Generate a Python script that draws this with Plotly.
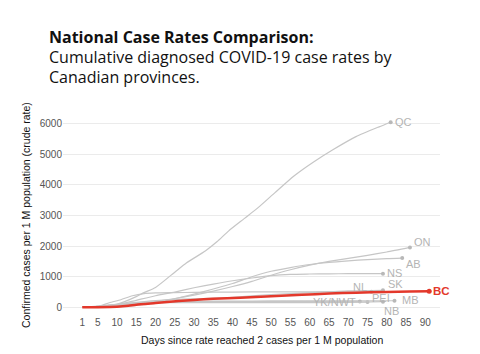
import plotly.graph_objects as go

# ---- data (days since 2 cases / 1M, cumulative cases per 1M) ----
qc_days = [1, 5, 10, 15, 17, 20, 25, 28, 33, 36, 39, 43, 47, 51, 56, 61, 66, 72, 78, 81]
qc_vals = [0, 20, 100, 350, 480, 650, 1150, 1450, 1850, 2150, 2500, 2900, 3300, 3750, 4300, 4750, 5150, 5580, 5900, 6050]

on_days = [1, 5, 10, 15, 20, 25, 30, 35, 40, 45, 50, 55, 60, 65, 70, 75, 80, 86]
on_vals = [0, 15, 50, 110, 190, 290, 400, 530, 680, 850, 1050, 1230, 1380, 1500, 1600, 1700, 1810, 1960]

ab_days = [1, 5, 10, 15, 20, 25, 30, 35, 40, 45, 50, 55, 60, 65, 70, 75, 80, 84]
ab_vals = [0, 5, 20, 60, 150, 280, 430, 600, 780, 1000, 1180, 1300, 1400, 1470, 1520, 1560, 1595, 1610]

ns_days = [1, 5, 10, 15, 20, 25, 30, 35, 40, 45, 50, 55, 60, 65, 70, 79]
ns_vals = [0, 10, 80, 230, 380, 500, 640, 760, 870, 960, 1040, 1080, 1090, 1095, 1100, 1100]

sk_days = [1, 5, 10, 15, 20, 30, 40, 50, 60, 70, 79]
sk_vals = [0, 30, 80, 160, 220, 280, 330, 420, 480, 540, 556]

nl_days = [1, 5, 8, 11, 14, 17, 20, 25, 30, 40, 50, 60, 76]
nl_vals = [0, 20, 150, 250, 380, 450, 470, 480, 490, 500, 505, 505, 510]

mb_days = [1, 5, 10, 15, 20, 25, 30, 40, 50, 60, 70, 82]
mb_vals = [0, 10, 60, 120, 170, 190, 200, 205, 210, 212, 215, 216]

pei_days = [1, 5, 10, 15, 20, 25, 30, 50, 75]
pei_vals = [0, 30, 100, 150, 160, 165, 170, 171, 175]

yk_days = [1, 5, 10, 15, 20, 30, 50, 73]
yk_vals = [0, 40, 100, 150, 180, 190, 192, 195]

nb_days = [1, 5, 10, 15, 20, 30, 40, 60, 70, 79]
nb_vals = [0, 30, 90, 140, 150, 155, 155, 155, 160, 185]

bc_days = [1, 5, 10, 13, 15, 20, 26, 30, 35, 42, 50, 58, 65, 72, 80, 86, 91]
bc_vals = [0, 5, 20, 50, 85, 140, 206, 240, 280, 315, 360, 410, 450, 480, 500, 515, 525]

gray_series = [
    ("QC", qc_days, qc_vals, dict(xanchor="left", xshift=2, yshift=0)),
    ("ON", on_days, on_vals, dict(xanchor="left", xshift=2, yshift=5)),
    ("AB", ab_days, ab_vals, dict(xanchor="left", xshift=2, yshift=-6)),
    ("NS", ns_days, ns_vals, dict(xanchor="left", xshift=2, yshift=1)),
    ("SK", sk_days, sk_vals, dict(xanchor="left", xshift=3, yshift=6)),
    ("NL", nl_days, nl_vals, dict(xanchor="right", xshift=-2, yshift=5)),
    ("PEI", pei_days, pei_vals, dict(xanchor="left", xshift=2, yshift=4)),
    ("MB", mb_days, mb_vals, dict(xanchor="left", xshift=5, yshift=1)),
    ("YK/NWT", yk_days, yk_vals, dict(xanchor="right", xshift=-2, yshift=-1)),
    ("NB", nb_days, nb_vals, dict(xanchor="left", xshift=-1, yshift=-9)),
]

x_ticks = [1, 5, 10, 15, 20, 25, 30, 35, 40, 45, 50, 55, 60, 65, 70, 75, 80, 85, 90]
y_ticks = [0, 1000, 2000, 3000, 4000, 5000, 6000]

title_lines = ["<b>National Case Rates Comparison:</b>",
               "Cumulative diagnosed COVID-19 case rates by",
               "Canadian provinces."]

GRAY = "#c6c6c6"
LABEL_GRAY = "#b4b4b4"
RED = "#e3382b"
FONT = "Liberation Sans, Arial"

L, R, T, B = 63, 40, 110, 39
PW, PH = 480 - L - R, 354 - T - B

fig = go.Figure()
annotations = []
for name, d, v, pos in gray_series:
    fig.add_trace(go.Scatter(x=d, y=v, mode="lines",
                             line=dict(color=GRAY, width=1.2, shape="spline", smoothing=0.6),
                             hoverinfo="skip", showlegend=False))
    fig.add_trace(go.Scatter(x=[d[-1]], y=[v[-1]], mode="markers",
                             marker=dict(color="#b8b8b8", size=4), showlegend=False))
    annotations.append(dict(x=d[-1], y=v[-1], xref="x", yref="y", text=name, showarrow=False,
                            font=dict(family=FONT, size=11, color=LABEL_GRAY),
                            yanchor="middle", **pos))

fig.add_trace(go.Scatter(x=bc_days, y=bc_vals, mode="lines",
                         line=dict(color=RED, width=2.5, shape="spline", smoothing=0.6),
                         showlegend=False))
fig.add_trace(go.Scatter(x=[bc_days[-1]], y=[bc_vals[-1]], mode="markers",
                         marker=dict(color=RED, size=5), showlegend=False))
annotations.append(dict(x=bc_days[-1], y=bc_vals[-1], xref="x", yref="y", text="<b>BC</b>",
                        showarrow=False, xanchor="left", yanchor="middle", xshift=2,
                        font=dict(family=FONT, size=11.5, color=RED)))

# title lines
for line, yc in zip(title_lines, [37.2, 56.7, 76.5]):
    annotations.append(dict(xref="paper", yref="paper", x=(47 - L) / PW, y=1 + (T - yc) / PH,
                            xanchor="left", yanchor="middle", align="left", showarrow=False,
                            text=line, font=dict(family="Open Sans", size=16, color="#111111")))
# axis titles
annotations.append(dict(xref="paper", yref="paper", x=(262 - L) / PW, y=-(340 - (354 - B)) / PH,
                        xanchor="center", yanchor="middle", showarrow=False,
                        text="Days since rate reached 2 cases per 1 M population",
                        font=dict(family=FONT, size=10.5, color="#111111")))
annotations.append(dict(xref="paper", yref="paper", x=-(L - 26) / PW, y=((354 - B) - 215) / PH,
                        xanchor="center", yanchor="middle", showarrow=False, textangle=-90,
                        text="Confirmed cases per 1 M population (crude rate)",
                        font=dict(family=FONT, size=10.5, color="#111111")))

fig.update_layout(
    width=480, height=354,
    margin=dict(l=L, r=R, t=T, b=B),
    paper_bgcolor="white", plot_bgcolor="white",
    annotations=annotations,
    xaxis=dict(range=[-4, 93.8], tickmode="array", tickvals=x_ticks, showgrid=False,
               zeroline=False, showline=False, ticks="",
               tickfont=dict(family=FONT, size=10, color="#555555")),
    yaxis=dict(range=[-250, 6450], tickmode="array", tickvals=y_ticks, showgrid=True,
               gridcolor="#ebebeb", gridwidth=1, zeroline=False, showline=False, ticks="",
               tickfont=dict(family=FONT, size=10, color="#555555")),
)

fig.write_html("out.html")
